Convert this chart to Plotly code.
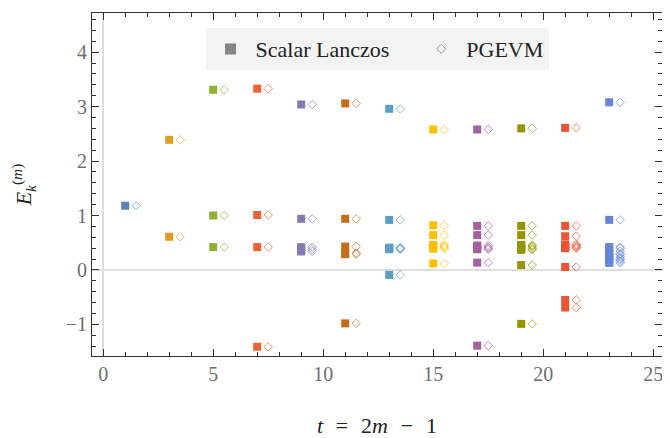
import plotly.graph_objects as go

# time slices t = 2m - 1
t_values = [1, 3, 5, 7, 9, 11, 13, 15, 17, 19, 21, 23]

# eigenvalues E_k^(m) from the scalar Lanczos method, one list per t
lanczos_E = [
    [1.18],
    [2.39, 0.61],
    [3.31, 1.00, 0.42],
    [3.33, 1.01, 0.42, -1.41],
    [3.04, 0.94, 0.42, 0.38, 0.34],
    [3.06, 0.94, 0.43, 0.31, 0.29, -0.98],
    [2.96, 0.92, 0.41, 0.40, 0.39, 0.38, -0.09],
    [2.58, 0.82, 0.64, 0.46, 0.44, 0.42, 0.39, 0.12],
    [2.58, 0.81, 0.64, 0.45, 0.42, 0.40, 0.38, 0.135, -1.39],
    [2.60, 0.81, 0.64, 0.46, 0.44, 0.42, 0.39, 0.37, 0.09, -0.99],
    [2.61, 0.81, 0.62, 0.47, 0.45, 0.43, 0.41, 0.40, 0.055, -0.55, -0.69],
    [3.08, 0.92, 0.42, 0.40, 0.35, 0.30, 0.28, 0.24, 0.21, 0.19, 0.16, 0.13],
]

# eigenvalues from PGEVM (plotted slightly to the right of each t)
pgevm_E = [
    [1.18],
    [2.39, 0.61],
    [3.31, 1.00, 0.42],
    [3.33, 1.01, 0.42, -1.41],
    [3.04, 0.94, 0.42, 0.38, 0.34],
    [3.06, 0.94, 0.43, 0.31, 0.29, -0.98],
    [2.96, 0.92, 0.41, 0.40, 0.39, 0.38, -0.09],
    [2.58, 0.82, 0.64, 0.46, 0.44, 0.42, 0.39, 0.12],
    [2.58, 0.81, 0.64, 0.45, 0.42, 0.40, 0.38, 0.135, -1.39],
    [2.60, 0.81, 0.64, 0.46, 0.44, 0.42, 0.39, 0.37, 0.09, -0.99],
    [2.61, 0.81, 0.62, 0.47, 0.45, 0.43, 0.41, 0.40, 0.055, -0.55, -0.69],
    [3.08, 0.92, 0.42, 0.40, 0.35, 0.30, 0.28, 0.24, 0.21, 0.19, 0.16, 0.13],
]
pgevm_shift = 0.5

# Mathematica default palette (ColorData 97)
colors = ['#5E81B5', '#E19C24', '#8FB032', '#EB6235', '#8778B3', '#C56E1A',
          '#5D9EC7', '#FFBF00', '#A5609D', '#929600', '#E95536', '#6685D9']

serif = 'Liberation Serif'
sp = '\u2002\u200a'  # wide math spacing around = and -
fig = go.Figure()

for t, e_l, e_p, c in zip(t_values, lanczos_E, pgevm_E, colors):
    fig.add_trace(go.Scatter(
        x=[t] * len(e_l), y=e_l, mode='markers', showlegend=False,
        marker=dict(symbol='square', size=8, color=c, line=dict(width=0)),
    ))
    fig.add_trace(go.Scatter(
        x=[t + pgevm_shift] * len(e_p), y=e_p, mode='markers', showlegend=False,
        marker=dict(symbol='diamond-open', size=6.5, color=c, opacity=0.7, line=dict(width=1)),
    ))

# legend-only entries (trailing en spaces widen the gap between the two entries)
fig.add_trace(go.Scatter(x=[None], y=[None], mode='markers', name='Scalar Lanczos\u2002\u2002',
                         marker=dict(symbol='square', size=11, color='#858585')))
fig.add_trace(go.Scatter(x=[None], y=[None], mode='markers', name='PGEVM',
                         marker=dict(symbol='diamond-open', size=7, color='#999999', line=dict(width=1))))

axis_common = dict(
    showgrid=False, showline=True, linecolor='#333333', linewidth=1, mirror='allticks',
    ticks='inside', ticklen=7, tickcolor='#333333', tickwidth=1,
    tickfont=dict(size=20, color='#6e6e6e'),
    zeroline=True, zerolinecolor='#dedede', zerolinewidth=1.5,
    automargin=False,
)

# the page body has an 8px margin, so the figure is a little smaller than the window
fig.update_layout(
    width=662, height=430,
    margin=dict(l=84, r=8, t=5, b=82),
    plot_bgcolor='white', paper_bgcolor='white',
    font=dict(family=serif, color='#222222'),
    xaxis=dict(
        range=[-0.51, 25.4], dtick=5, tick0=0,
        minor=dict(dtick=1, ticks='inside', ticklen=4, tickcolor='#333333'),
        title=dict(text=f'<i>t</i>{sp}={sp}2<i>m</i>{sp}−{sp}1', font=dict(size=22), standoff=34),
        **axis_common,
    ),
    yaxis=dict(
        range=[-1.58, 4.72], dtick=1, tick0=0,
        minor=dict(dtick=0.2, ticks='inside', ticklen=4, tickcolor='#333333'),
        title=dict(text='<i>E</i><sub><i>k</i></sub><sup>(<i>m</i>)</sup>',
                   font=dict(size=22), standoff=30),
        **axis_common,
    ),
    legend=dict(
        orientation='h', x=0.5, xanchor='center', y=0.956, yanchor='top',
        bgcolor='#f3f3f3', font=dict(size=22), itemwidth=40,
    ),
)

fig.write_html('out.html')
